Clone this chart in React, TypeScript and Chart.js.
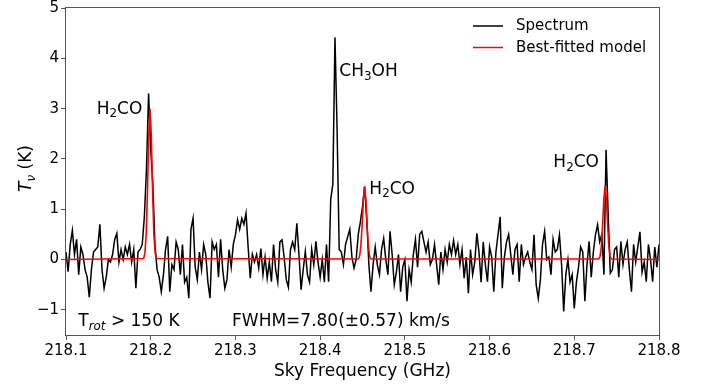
import React, { useEffect, useRef } from "react";
import { Chart, registerables } from "chart.js";

Chart.register(...registerables);

// ---- data ----
const specStart = 218.1; // GHz, first channel
const specStep = 0.0025; // GHz, channel width
const spectrum = [
  0.15, -0.24, 0.3, 0.58, 0.1, 0.4, -0.3, 0.25, 0.1, -0.2,
  -0.35, -0.75, -0.2, 0.15, 0.2, 0.25, 0.7, -0.2, -0.57, -0.35,
  0.0, -0.05, 0.1, 0.4, 0.52, -0.05, 0.2, 0.0, 0.25, 0.1,
  0.3, -0.05, 0.2, -0.57, 0.15, 0.2, 0.3, 0.85, 1.8, 3.3,
  2.2, 1.5, 0.3, -0.2, -0.35, -0.64, -0.3, 0.2, 0.46, -0.64,
  -0.1, -0.2, 0.35, 0.2, -0.3, 0.3, -0.45, -0.35, -0.77, 0.6,
  0.82, -0.15, -0.4, 0.15, -0.2, 0.3, 0.1, -0.45, -0.77, 0.35,
  0.2, 0.3, -0.35, 0.4, -0.2, -0.57, -0.4, 0.2, -0.15, 0.3,
  0.49, 0.79, 0.6, 0.82, 0.7, 0.92, 0.25, -0.37, 0.1, -0.05,
  0.1, -0.17, 0.22, -0.3, 0.05, -0.37, -0.05, -0.44, 0.3, -0.2,
  -0.45, 0.35, 0.39, 0.05, -0.4, -0.55, 0.2, 0.35, 0.2, 0.72,
  0.1, -0.6, -0.2, 0.16, -0.3, -0.45, 0.2, -0.1, 0.36, -0.05,
  -0.35, 0.0, -0.45, 0.3, -0.44, 1.2, 1.5, 4.42, 2.6, 0.2,
  0.15, -0.1, 0.3, 0.45, 0.6, 0.05, -0.17, 0.0, 0.5, 0.75,
  1.05, 1.45, 0.8, -0.1, -0.64, -0.1, 0.25, -0.1, -0.3, 0.2,
  0.42, 0.0, -0.3, 0.56, 0.1, -0.5, -0.25, 0.1, -0.64, -0.15,
  0.0, -0.83, -0.2, -0.45, 0.1, 0.4, -0.15, 0.5, 0.56, 0.35,
  0.15, 0.35, -0.1, 0.0, 0.3, -0.1, -0.5, 0.15, -0.2, 0.2,
  -0.05, 0.3, 0.1, 0.38, 0.1, 0.3, -0.1, 0.2, -0.37, 0.05,
  -0.67, 0.2, -0.3, -0.05, 0.52, 0.15, -0.45, 0.35, -0.1, -0.44,
  0.25, 0.05, -0.64, 0.15, 0.5, 0.85, -0.57, 0.05, 0.35, 0.5,
  0.1, -0.3, 0.2, 0.3, -0.44, 0.3, -0.1, 0.05, 0.15, -0.05,
  -0.2, 0.49, -0.5, -0.77, -0.4, 0.3, 0.56, 0.0, 0.05, -0.3,
  0.4, 0.15, 0.2, 0.49, -0.1, -1.03, -0.3, 0.0, -0.45, -0.3,
  -0.97, -0.45, -0.15, 0.25, 0.15, -0.83, -0.1, 0.36, -0.35, 0.15,
  0.49, 0.69, 0.35, 0.5, -0.3, 2.18, 0.9, -0.27, -0.2, 0.2,
  0.25, -0.35, 0.36, -0.1, 0.2, 0.35, -0.2, -0.64, 0.3, -0.05,
  0.25, 0.55, -0.25, -0.05, -0.44, 0.3, 0.0, -0.44, 0.25, -0.15, 0.3,
];

const modelFreq = [
  218.1,
  218.1917, 218.1932, 218.1947, 218.1962, 218.1977, 218.1992, 218.2007, 218.2022, 218.2037, 218.2052, 218.2067,
  218.445, 218.4465, 218.448, 218.4495, 218.451, 218.4525, 218.454, 218.4555, 218.457, 218.4585, 218.46,
  218.7289, 218.7304, 218.7319, 218.7334, 218.7349, 218.7364, 218.7379, 218.7394, 218.7409, 218.7424, 218.7439,
  218.8,
];
const modelVal = [
  0,
  0.02, 0.13, 0.52, 1.37, 2.47, 3.0, 2.47, 1.37, 0.52, 0.13, 0.02,
  0.01, 0.06, 0.25, 0.66, 1.19, 1.45, 1.19, 0.66, 0.25, 0.06, 0.01,
  0.01, 0.06, 0.25, 0.67, 1.21, 1.47, 1.21, 0.67, 0.25, 0.06, 0.01,
  0,
];

const xTicks = [218.1, 218.2, 218.3, 218.4, 218.5, 218.6, 218.7, 218.8];
const yTicks = [-1, 0, 1, 2, 3, 4, 5];
const seriesLabels = ["Spectrum", "Best-fitted model"];
const xTitle = "Sky Frequency (GHz)";

type Part = { t: string; sub?: boolean; italic?: boolean };
const lineLabels: { parts: Part[]; x: number; y: number }[] = [
  { parts: [{ t: "H" }, { t: "2", sub: true }, { t: "CO" }], x: 218.1362, y: 2.9 },
  { parts: [{ t: "CH" }, { t: "3", sub: true }, { t: "OH" }], x: 218.4227, y: 3.65 },
  { parts: [{ t: "H" }, { t: "2", sub: true }, { t: "CO" }], x: 218.4581, y: 1.31 },
  { parts: [{ t: "H" }, { t: "2", sub: true }, { t: "CO" }], x: 218.6753, y: 1.83 },
  { parts: [{ t: "T" }, { t: "rot", sub: true, italic: true }, { t: " > 150 K" }], x: 218.1145, y: -1.32 },
  { parts: [{ t: "FWHM=7.80(\u00b10.57) km/s" }], x: 218.296, y: -1.32 },
];
const yTitleParts: Part[] = [{ t: "T", italic: true }, { t: "\u03bd", sub: true, italic: true }, { t: " (K)" }];

const FONT = '"DejaVu Sans", sans-serif';
const frameColor = "#555";

function drawRich(ctx: CanvasRenderingContext2D, parts: Part[], x: number, y: number, size: number, measureOnly = false) {
  let cx = x;
  for (const p of parts) {
    const s = p.sub ? size * 0.7 : size;
    ctx.font = `${p.italic ? "italic " : ""}${s}px ${FONT}`;
    const dy = p.sub ? size * 0.22 : 0;
    if (!measureOnly) ctx.fillText(p.t, cx, y + dy);
    cx += ctx.measureText(p.t).width;
  }
  return cx - x;
}

const annotPlugin = {
  id: "annot",
  afterDraw(chart: any) {
    const ctx: CanvasRenderingContext2D = chart.ctx;
    const { left, right, top, bottom } = chart.chartArea;
    const xs = chart.scales.x;
    const ys = chart.scales.y;
    ctx.save();
    // frame
    ctx.strokeStyle = frameColor;
    ctx.lineWidth = 1;
    ctx.strokeRect(Math.round(left) - 0.5, Math.round(top) - 0.5, Math.round(right - left) + 1, Math.round(bottom - top) + 1);
    // labels
    ctx.fillStyle = "#000";
    ctx.textAlign = "left";
    ctx.textBaseline = "alphabetic";
    for (const a of lineLabels) {
      drawRich(ctx, a.parts, xs.getPixelForValue(a.x), ys.getPixelForValue(a.y), 17);
    }
    // legend
    const ds = chart.data.datasets;
    const lx = right - 186;
    const rows = [top + 18, top + 39.5];
    ds.forEach((d: any, i: number) => {
      ctx.strokeStyle = d.borderColor;
      ctx.lineWidth = 1.5;
      ctx.beginPath();
      ctx.moveTo(lx, rows[i]);
      ctx.lineTo(lx + 30, rows[i]);
      ctx.stroke();
      ctx.fillStyle = "#000";
      ctx.font = `15px ${FONT}`;
      ctx.textBaseline = "middle";
      ctx.fillText(d.label, lx + 43, rows[i] + 0.5);
    });
    // x title
    ctx.textBaseline = "alphabetic";
    ctx.textAlign = "center";
    ctx.font = `17px ${FONT}`;
    ctx.fillText(xTitle, (left + right) / 2, 376);
    // y title
    ctx.textAlign = "left";
    ctx.translate(31, (top + bottom) / 2 - 3);
    ctx.rotate(-Math.PI / 2);
    const w = drawRich(ctx, yTitleParts, 0, 0, 17, true);
    drawRich(ctx, yTitleParts, -w / 2, 0, 17);
    ctx.restore();
  },
};

export default function App() {
  const ref = useRef<HTMLCanvasElement>(null);
  useEffect(() => {
    if (!ref.current) return;
    const specData = spectrum.map((v, i) => ({ x: specStart + i * specStep, y: v }));
    const modelData = modelFreq.map((f, i) => ({ x: f, y: modelVal[i] }));
    const chart = new Chart(ref.current, {
      type: "line",
      data: {
        datasets: [
          {
            label: seriesLabels[0],
            data: specData,
            borderColor: "#000000",
            borderWidth: 1.5,
            pointRadius: 0,
            tension: 0,
            order: 2,
          },
          {
            label: seriesLabels[1],
            data: modelData,
            borderColor: "#ff0000",
            borderWidth: 1.6,
            pointRadius: 0,
            tension: 0,
            order: 1,
          },
        ],
      },
      options: {
        responsive: false,
        animation: false,
        devicePixelRatio: 1,
        layout: { padding: { left: 0, right: 54, top: 6, bottom: 0 } },
        plugins: { legend: { display: false }, tooltip: { enabled: false } },
        scales: {
          x: {
            type: "linear",
            min: 218.1,
            max: 218.8,
            border: { display: false },
            grid: { drawOnChartArea: false, drawTicks: true, tickLength: 5, color: frameColor },
            afterBuildTicks: (s: any) => {
              s.ticks = xTicks.map((v) => ({ value: v }));
            },
            afterFit: (s: any) => {
              s.height = 55;
            },
            ticks: {
              color: "#000",
              font: { family: FONT, size: 15 },
              padding: 2,
              maxRotation: 0,
              autoSkip: false,
              callback: (v: any) => Number(v).toFixed(1),
            },
          },
          y: {
            type: "linear",
            min: -1.5,
            max: 5,
            border: { display: false },
            grid: { drawOnChartArea: false, drawTicks: true, tickLength: 5, color: frameColor },
            afterBuildTicks: (s: any) => {
              s.ticks = yTicks.map((v) => ({ value: v }));
            },
            afterFit: (s: any) => {
              s.width = 66;
            },
            ticks: {
              color: "#000",
              font: { family: FONT, size: 15, lineHeight: 0.8 },
              padding: 2,
              autoSkip: false,
              callback: (v: any) => (Number(v) < 0 ? "\u2212" + Math.abs(Number(v)) : String(v)),
            },
          },
        },
      },
      plugins: [annotPlugin],
    });
    return () => chart.destroy();
  }, []);
  return (
    <div style={{ position: "absolute", left: 0, top: 0, width: 713, height: 390, background: "#fff" }}>
      <canvas ref={ref} width={713} height={390} style={{ display: "block" }} />
    </div>
  );
}
